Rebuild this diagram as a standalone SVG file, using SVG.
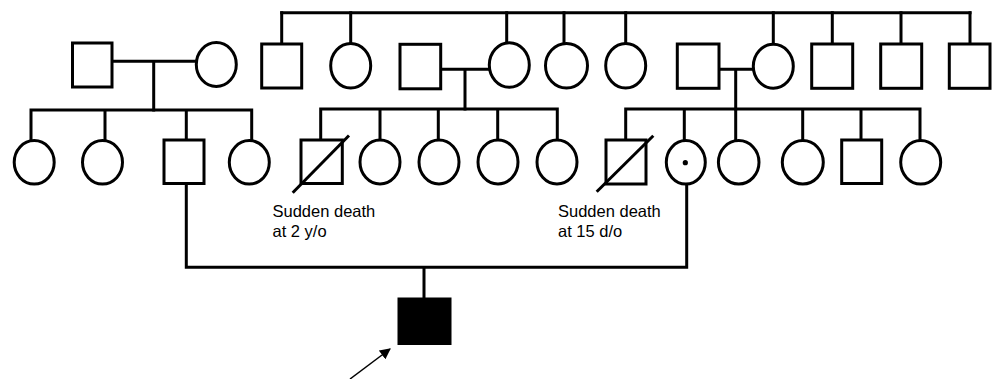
<svg xmlns="http://www.w3.org/2000/svg" width="993" height="379" viewBox="0 0 993 379">
  <style>
    .sym { fill: #fff; stroke: #000; stroke-width: 3; }
    .line { fill: none; stroke: #000; stroke-width: 3; stroke-linecap: square; }
    .slash { stroke: #000; stroke-width: 3; }
    .affected { fill: #000; stroke: #000; stroke-width: 2; }
    .lbl { font-family: "Liberation Sans", Arial, sans-serif; font-size: 16.5px; fill: #000; }
  </style>
  <defs>
    <marker id="arrowhead" viewBox="0 0 10 10" refX="9" refY="5" markerWidth="11" markerHeight="11" markerUnits="userSpaceOnUse" orient="auto">
      <path d="M0,0 L10,5 L0,10 z" fill="#000"/>
    </marker>
  </defs>

  <!-- connectors: sibships, marriages, descents -->
  <g id="connectors">
    <!-- top sibship of generation I -->
    <path class="line" d="M281.7,12.7 H970"/>
    <path class="line" d="M281.7,12.7 V44 M350.7,12.7 V43.5 M506.7,12.7 V43 M564,12.7 V43.5 M625.7,12.7 V43.5 M773.3,12.7 V44 M832.3,12.7 V44 M901,12.7 V44 M970,12.7 V44"/>
    <!-- couple lines and descents -->
    <path class="line" d="M112,61.3 H196 M153.7,61.3 V110"/>
    <path class="line" d="M440.7,69.3 H489.3 M465,69.3 V109"/>
    <path class="line" d="M719,69.3 H753.3 M735.7,69.3 V109"/>
    <!-- generation II sibships -->
    <path class="line" d="M31,110 H251.7 M31,110 V140 M105,110 V140 M186.3,110 V140 M251.7,110 V140"/>
    <path class="line" d="M320.7,109 H557.3 M320.7,109 V140 M380,109 V140 M438.3,109 V140 M497.7,109 V140 M557.3,109 V140"/>
    <path class="line" d="M625.7,109 H920 M625.7,109 V140 M684.3,109 V140 M735.7,109 V140 M802.7,109 V140 M861,109 V140 M920,109 V140"/>
    <!-- marriage of generation II and descent to proband -->
    <path class="line" d="M186.3,184 V267.3 H686.7 V184 M424,267.3 V298"/>
    <!-- proband arrow -->
    <line x1="350" y1="379" x2="390" y2="349" stroke="#000" stroke-width="1.5" marker-end="url(#arrowhead)"/>
  </g>

  <!-- generation I -->
  <g id="g1-m1"><rect class="sym" x="72.5" y="43" width="39.5" height="44"/></g>
  <g id="g1-f1"><ellipse class="sym" cx="216.3" cy="64.5" rx="20" ry="22"/></g>
  <g id="g1-m2"><rect class="sym" x="261.7" y="44" width="40" height="44"/></g>
  <g id="g1-f2"><ellipse class="sym" cx="350.7" cy="65.8" rx="20" ry="22.3"/></g>
  <g id="g1-m3"><rect class="sym" x="400" y="44.3" width="40.7" height="44.5"/></g>
  <g id="g1-f3"><ellipse class="sym" cx="509.3" cy="65" rx="20" ry="22.2"/></g>
  <g id="g1-f4"><ellipse class="sym" cx="566.5" cy="65.8" rx="21" ry="22.3"/></g>
  <g id="g1-f5"><ellipse class="sym" cx="625.7" cy="65.8" rx="20" ry="22.3"/></g>
  <g id="g1-m4"><rect class="sym" x="677.3" y="44" width="41.7" height="44.3"/></g>
  <g id="g1-f6"><ellipse class="sym" cx="773.3" cy="66.3" rx="20" ry="22"/></g>
  <g id="g1-m5"><rect class="sym" x="811.7" y="44" width="41" height="44.3"/></g>
  <g id="g1-m6"><rect class="sym" x="880.7" y="44" width="41" height="44.3"/></g>
  <g id="g1-m7"><rect class="sym" x="949.3" y="44" width="40.7" height="44.3"/></g>

  <!-- generation II -->
  <g id="g2-f1"><ellipse class="sym" cx="34.2" cy="162.3" rx="20" ry="21.7"/></g>
  <g id="g2-f2"><ellipse class="sym" cx="102.5" cy="162.3" rx="20" ry="21.7"/></g>
  <g id="g2-m1"><rect class="sym" x="164" y="140" width="40" height="43.5"/></g>
  <g id="g2-f3"><ellipse class="sym" cx="249.3" cy="162.3" rx="20" ry="21.7"/></g>
  <g id="g2-m2">
    <rect class="sym" x="301" y="140" width="41.3" height="43.5"/>
    <line class="slash" x1="292.7" y1="192.7" x2="349" y2="135.5"/>
    <text class="lbl" x="272.5" y="216.5">Sudden death</text>
    <text class="lbl" x="272.5" y="237">at 2 y/o</text>
  </g>
  <g id="g2-f4"><ellipse class="sym" cx="380" cy="162" rx="20" ry="22"/></g>
  <g id="g2-f5"><ellipse class="sym" cx="439" cy="162" rx="20" ry="22"/></g>
  <g id="g2-f6"><ellipse class="sym" cx="498" cy="162" rx="20" ry="22"/></g>
  <g id="g2-f7"><ellipse class="sym" cx="557" cy="162" rx="20" ry="22"/></g>
  <g id="g2-m3">
    <rect class="sym" x="606" y="140" width="40" height="44"/>
    <line class="slash" x1="596.7" y1="191.7" x2="653.3" y2="135.7"/>
    <text class="lbl" x="558" y="216.5">Sudden death</text>
    <text class="lbl" x="558" y="237">at 15 d/o</text>
  </g>
  <g id="g2-f8">
    <ellipse class="sym" cx="685.8" cy="162.3" rx="19.5" ry="21.7"/>
    <circle cx="685.3" cy="162.7" r="2.6" fill="#000"/>
  </g>
  <g id="g2-f9"><ellipse class="sym" cx="738.7" cy="162.3" rx="20.3" ry="21.7"/></g>
  <g id="g2-f10"><ellipse class="sym" cx="802.8" cy="162.3" rx="20.5" ry="21.7"/></g>
  <g id="g2-m4"><rect class="sym" x="841.7" y="140" width="40" height="43.5"/></g>
  <g id="g2-f11"><ellipse class="sym" cx="920.7" cy="162.3" rx="20" ry="21.7"/></g>

  <!-- generation III: proband -->
  <g id="g3-proband"><rect class="affected" x="398.5" y="298.5" width="52" height="45.5"/></g>
</svg>
